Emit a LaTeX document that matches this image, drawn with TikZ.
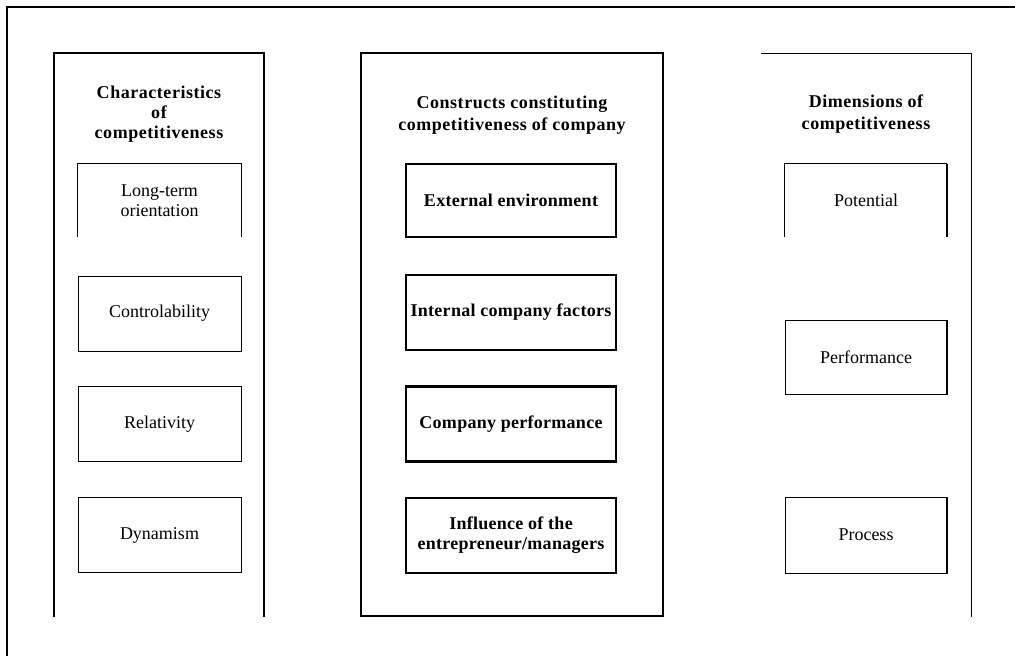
\documentclass[tikz,border=0pt]{standalone}
\usepackage{fontspec}
\setmainfont{Liberation Serif}
\newfontfamily\spacedbold[LetterSpace=3]{Liberation Serif}
\newfontfamily\boxbold[LetterSpace=1.5]{Liberation Serif}
\begin{document}
\begin{tikzpicture}[x=1pt,y=-1pt,
  frameline/.style={line width=2pt},
  colthick/.style={line width=2pt},
  colmid/.style={line width=1.5pt},
  colthin/.style={line width=1pt},
  titletext/.style={align=center,inner sep=0pt,font=\fontsize{18}{20}\selectfont\spacedbold\bfseries},
  plainbox/.style={minimum width=163pt,minimum height=75pt,inner sep=0pt,align=center,font=\fontsize{18}{20}\selectfont},
  boldbox/.style={draw,line width=2.6pt,minimum width=210pt,minimum height=75pt,inner sep=0pt,align=center,font=\fontsize{18}{20}\selectfont\boxbold\bfseries},
  thinedge/.style={line width=0.9pt}]
\useasboundingbox (0,0) rectangle (1015,656);
% outer frame (top and left only)
\draw[frameline] (7,656) -- (7,7) -- (1015,7);
% left column
\draw[colthick] (54,617) -- (54,53) -- (264,53) -- (264,617);
% middle column
\draw[colmid] (361,53) rectangle (663,616);
% right column
\draw[colthin] (761,53) -- (971,53) -- (971,617);
% titles
\node[titletext] (t1) at (159,114) {Characteristics\\of\\competitiveness};
\node[titletext,font=\fontsize{18}{22}\selectfont\spacedbold\bfseries] (t2) at (512,115) {Constructs constituting\\competitiveness of company};
\node[titletext,font=\fontsize{18}{22}\selectfont\spacedbold\bfseries] (t3) at (866,114) {Dimensions of\\competitiveness};
% left boxes
\node[plainbox,minimum height=73pt] (l1) at (159.5,200.5) {Long-term\\orientation};
\draw[thinedge] (l1.south west) -- (l1.north west) -- (l1.north east) -- (l1.south east);
\node[plainbox,draw,thinedge] (l2) at (159.5,313.5) {Controlability};
\node[plainbox,draw,thinedge] (l3) at (159.5,424) {Relativity};
\node[plainbox,draw,thinedge] (l4) at (159.5,535) {Dynamism};
% middle boxes
\node[boldbox,minimum height=73pt] (m1) at (511,200.5) {External environment};
\node[boldbox] (m2) at (511,312.5) {Internal company factors};
\node[boldbox] (m3) at (511,424) {Company performance};
\node[boldbox] (m4) at (511,535.5) {Influence of the\\entrepreneur/managers};
% right boxes
\node[plainbox,minimum width=162pt,minimum height=73pt] (r1) at (866,200.5) {Potential};
\draw[thinedge] (r1.south west) -- (r1.north west) -- (r1.north east);
\draw[line width=2pt] (r1.north east) -- (r1.south east);
\node[plainbox,draw,thinedge,minimum width=162pt,minimum height=74pt] (r2) at (866,357) {Performance};
\draw[line width=2pt] (r2.north east) -- (r2.south east);
\node[plainbox,draw,thinedge,minimum width=162pt,minimum height=76pt] (r3) at (866,535) {Process};
\draw[line width=2pt] (r3.north east) -- (r3.south east);
\end{tikzpicture}
\end{document}
